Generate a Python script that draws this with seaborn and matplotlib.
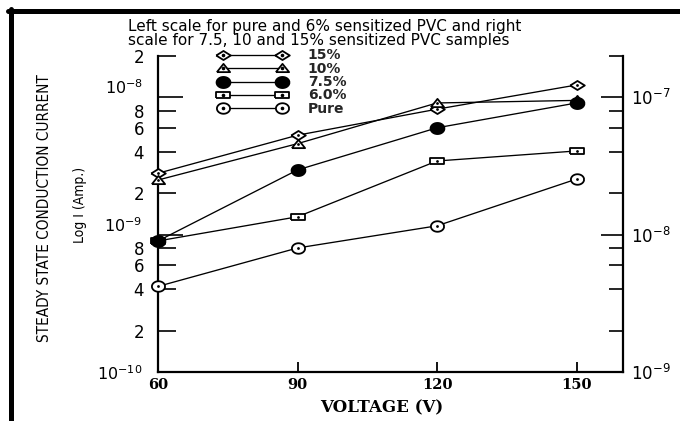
import numpy as np
import pandas as pd
import matplotlib
matplotlib.use("Agg")
import matplotlib.pyplot as plt
import seaborn as sns
from matplotlib.lines import Line2D
from matplotlib.ticker import FixedLocator, FixedFormatter, NullFormatter
from matplotlib.legend_handler import HandlerTuple

# ---------------- data ----------------
voltage = [60, 90, 120, 150]
# right scale (A)
pct15 = [2.8e-8, 5.3e-8, 8.2e-8, 1.23e-7]
pct10 = [2.5e-8, 4.6e-8, 9.1e-8, 9.5e-8]
pct75 = [9.0e-9, 2.96e-8, 6.0e-8, 9.1e-8]
# left scale (A)
pct6 = [9.0e-10, 1.35e-9, 3.44e-9, 4.07e-9]
pure = [4.2e-10, 8.0e-10, 1.16e-9, 2.54e-9]

series_labels = ["15%", "10%", "7.5%", "6.0%", "Pure"]
x_ticks = [60, 90, 120, 150]
left_major = [1e-10, 1e-9, 1e-8]
left_major_labels = [r"$10^{-10}$", r"$10^{-9}$", r"$10^{-8}$"]
left_minor = [2e-10, 4e-10, 6e-10, 8e-10, 2e-9, 4e-9, 6e-9, 8e-9, 2e-8]
left_minor_labels = ["2", "4", "6", "8", "2", "4", "6", "8", "2"]
right_major = [1e-9, 1e-8, 1e-7]
right_major_labels = [r"$10^{-9}$", r"$10^{-8}$", r"$10^{-7}$"]
right_minor = [2e-9, 4e-9, 6e-9, 8e-9, 2e-8, 4e-8, 6e-8, 8e-8, 2e-7]
title_text = ("Left scale for pure and 6% sensitized PVC and right\n"
              "scale for 7.5, 10 and 15% sensitized PVC samples")

# ---------------- style ----------------
sns.set_theme(style="ticks")
plt.rcParams["font.family"] = ["DejaVu Sans"]
plt.rcParams["mathtext.fontset"] = "dejavusans"

fig = plt.figure(figsize=(6.8, 4.21), dpi=100)
fig.patch.set_facecolor("white")
ax = fig.add_axes([158 / 680, 1 - 372 / 421, (623 - 158) / 680, (372 - 56) / 421])
ax.set_facecolor("white")
ax2 = ax.twinx()

# custom marker shapes (horizontally stretched, like the scanned figure)
diamond = [(-1, 0), (0, 0.62), (1, 0), (0, -0.62), (-1, 0)]
triangle = [(-1, -0.55), (1, -0.55), (0, 0.7), (-1, -0.55)]
rect = [(-1, -0.5), (1, -0.5), (1, 0.5), (-1, 0.5), (-1, -0.5)]
t = np.linspace(0, 2 * np.pi, 33)
ellipse = list(zip(np.cos(t), 0.8 * np.sin(t)))

lw = 0.95
specs = [
    (ax2, pct15, diamond, 10.5, "white", True),
    (ax2, pct10, triangle, 9.5, "white", True),
    (ax2, pct75, ellipse, 10, "black", False),
    (ax, pct6, rect, 9.5, "white", True),
    (ax, pure, ellipse, 9.5, "white", True),
]

handles = []
for a, vals, mk, ms, fc, dot in specs:
    df = pd.DataFrame({"V": voltage, "I": vals})
    sns.lineplot(data=df, x="V", y="I", ax=a, color="black", lw=lw,
                 marker=mk, markersize=ms, markerfacecolor=fc,
                 markeredgecolor="black", markeredgewidth=1.3,
                 legend=False, zorder=3, clip_on=False)
    h = Line2D([], [], color="black", lw=lw, marker=mk, markersize=ms,
               markerfacecolor=fc, markeredgecolor="black", markeredgewidth=1.3)
    if dot:
        sns.scatterplot(data=df, x="V", y="I", ax=a, color="black", s=4,
                        marker="o", linewidth=0, legend=False, zorder=4,
                        clip_on=False)
        hd = Line2D([], [], color="black", ls="none", marker="o", markersize=1.6)
        handles.append((h, hd))
    else:
        handles.append((h,))

# ---------------- axes ----------------
for a in (ax, ax2):
    a.set_yscale("log")
    a.set_xlim(60, 160)
    a.set_xlabel("")
    a.set_ylabel("")
ax.set_ylim(1e-10, 2e-8)
ax2.set_ylim(1e-9, 2e-7)

ax.spines["top"].set_visible(False)
ax.spines["right"].set_visible(False)
for s in ("left", "bottom"):
    ax.spines[s].set_linewidth(1.6)
    ax.spines[s].set_color("black")
for s in ("left", "top", "bottom"):
    ax2.spines[s].set_visible(False)
ax2.spines["right"].set_linewidth(1.6)
ax2.spines["right"].set_color("black")

ax.xaxis.set_major_locator(FixedLocator(x_ticks))
ax.set_xticklabels([str(v) for v in x_ticks],
                   fontdict={"family": "DejaVu Serif", "weight": "bold", "size": 10.5})
ax.tick_params(axis="x", which="both", direction="in", length=7, width=1.3,
               pad=4, colors="black")
ax.xaxis.set_minor_locator(FixedLocator([]))

ax.yaxis.set_major_locator(FixedLocator(left_major))
ax.yaxis.set_major_formatter(FixedFormatter(left_major_labels))
ax.yaxis.set_minor_locator(FixedLocator(left_minor))
ax.yaxis.set_minor_formatter(FixedFormatter(left_minor_labels))
ax.tick_params(axis="y", which="major", direction="in", length=18, width=1.2,
               pad=11, labelsize=11.5, colors="black")
ax.tick_params(axis="y", which="minor", direction="in", length=13, width=1.2,
               pad=10, labelsize=12, colors="black")
# upper decade labels sit just above their tick, as in the scan
major_lbls = ax.yaxis.get_majorticklabels()
for lbl in major_lbls[1:]:
    lbl.set_verticalalignment("bottom")

ax2.yaxis.set_major_locator(FixedLocator(right_major))
ax2.yaxis.set_major_formatter(FixedFormatter(right_major_labels))
ax2.yaxis.set_minor_locator(FixedLocator(right_minor))
ax2.yaxis.set_minor_formatter(NullFormatter())
ax2.tick_params(axis="y", which="major", direction="in", length=16, width=1.2,
                pad=6, labelsize=12, colors="black")
ax2.tick_params(axis="y", which="minor", direction="in", length=10, width=1.2,
                colors="black")

# ---------------- legend ----------------
leg = ax2.legend(handles, series_labels, loc="upper left",
                 bbox_to_anchor=(0.1308, 1.024), frameon=False,
                 handler_map={tuple: HandlerTuple(ndivide=1, pad=0)},
                 numpoints=2, handlelength=4.84, handleheight=0.5,
                 handletextpad=1.57, labelspacing=-0.05, borderpad=0,
                 borderaxespad=0, prop={"weight": "bold", "size": 10})
leg.set_zorder(10)

# ---------------- texts ----------------
fig.text(128 / 680, 1 - 19 / 421, title_text, ha="left", va="top",
         fontsize=11, family="DejaVu Sans", linespacing=0.95, color="black")
fig.text(45 / 680, 1 - 208 / 421, "STEADY STATE CONDUCTION CURRENT",
         rotation=90, ha="center", va="center", fontsize=11,
         family="DejaVu Sans", fontstretch="condensed", color="black")
fig.text(80 / 680, 1 - 205 / 421, "Log I (Amp.)", rotation=90,
         ha="center", va="center", fontsize=10,
         family="DejaVu Sans", fontstretch="condensed", color="black")
fig.text(382 / 680, 1 - 408 / 421, "VOLTAGE (V)", ha="center", va="center",
         fontsize=12, family="DejaVu Serif", weight="bold", color="black")

# frame of the scanned figure (top and left black borders)
fig.add_artist(Line2D([8 / 680, 1], [1 - 11 / 421, 1 - 11 / 421],
                      transform=fig.transFigure, color="black", lw=3.6))
fig.add_artist(Line2D([10.5 / 680, 10.5 / 680], [0, 1 - 9 / 421],
                      transform=fig.transFigure, color="black", lw=3.6))

fig.savefig("out.png", dpi=100, facecolor="white")
